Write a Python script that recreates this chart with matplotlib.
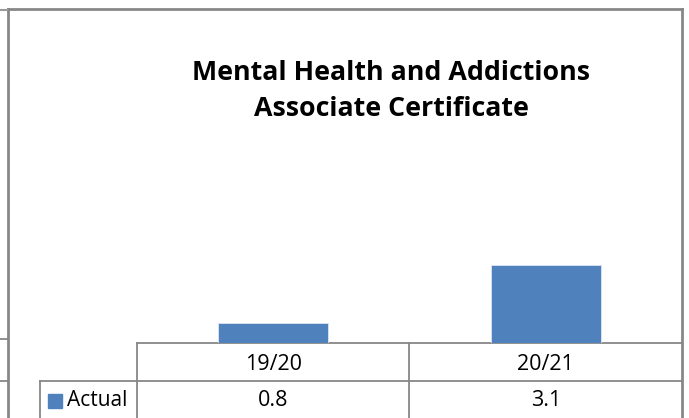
import matplotlib
matplotlib.use('Agg')
import matplotlib.pyplot as plt
import matplotlib.transforms as mtransforms

# Data
categories = ['19/20', '20/21']
actual = [0.8, 3.1]
series_name = 'Actual'
title = 'Mental Health and Addictions\nAssociate Certificate'

W, H = 689, 418
bar_color = '#4F81BD'
line_color = '#878787'
plt.rcParams['font.family'] = ['Open Sans', 'DejaVu Sans']

fig = plt.figure(figsize=(W / 100, H / 100), dpi=100)

# overlay in pixel coordinates for the frame and the data table grid
ov = fig.add_axes([0, 0, 1, 1])
ov.set_xlim(0, W)
ov.set_ylim(H, 0)
ov.axis('off')

# bar axes: plot area sits right above the table
base_y = 343
y_max = 3.5
px_per_unit = 25.2
top_y = base_y - y_max * px_per_unit
ax = fig.add_axes([137 / W, (H - base_y) / H, (682 - 137) / W, (base_y - top_y) / H])
ax.bar(range(len(categories)), actual, width=0.405, color=bar_color, edgecolor='#DCE6F2', linewidth=0.6)
ax.set_xlim(-0.5, len(categories) - 0.5)
ax.set_ylim(0, y_max)
ax.axis('off')

# chart frame
lw = 2.0
ov.plot([7.5, 7.5], [8.5, H], color=line_color, lw=lw)
ov.plot([7.5, 682], [8.5, 8.5], color=line_color, lw=lw)
ov.plot([682, 682], [8.5, H], color=line_color, lw=lw)

# bits of the neighbouring chart on the left
ov.plot([0, 7], [10, 10], color='#9a9a9a', lw=1.5)
ov.plot([0, 7], [339, 339], color=line_color, lw=1.3)
ov.plot([0, 7], [381, 381], color=line_color, lw=1.3)

# data table grid
tl = 1.3
ov.plot([137, 682], [343, 343], color=line_color, lw=tl)
ov.plot([40, 682], [381, 381], color=line_color, lw=tl)
ov.plot([137, 137], [343, H], color=line_color, lw=tl)
ov.plot([409, 409], [343, H], color=line_color, lw=tl)
ov.plot([40, 40], [381, H], color=line_color, lw=tl)

# table text, x from the bar axes' category scale
tr = mtransforms.blended_transform_factory(ax.transData, ov.transData)
for i, (cat, val) in enumerate(zip(categories, actual)):
    ov.text(i, 364, cat, transform=tr, ha='center', va='center', fontsize=15.5)
    ov.text(i, 400, f'{val:.1f}', transform=tr, ha='center', va='center', fontsize=15.5)

# legend key in the table
ov.add_patch(plt.Rectangle((48, 394), 14, 14, color=bar_color))
ov.text(67, 400, series_name, ha='left', va='center', fontsize=15)

# title
ov.text(391, 91, title, ha='center', va='center', fontsize=19.3, fontweight='bold',
        linespacing=1.45)

fig.savefig('out.png', dpi=100)
